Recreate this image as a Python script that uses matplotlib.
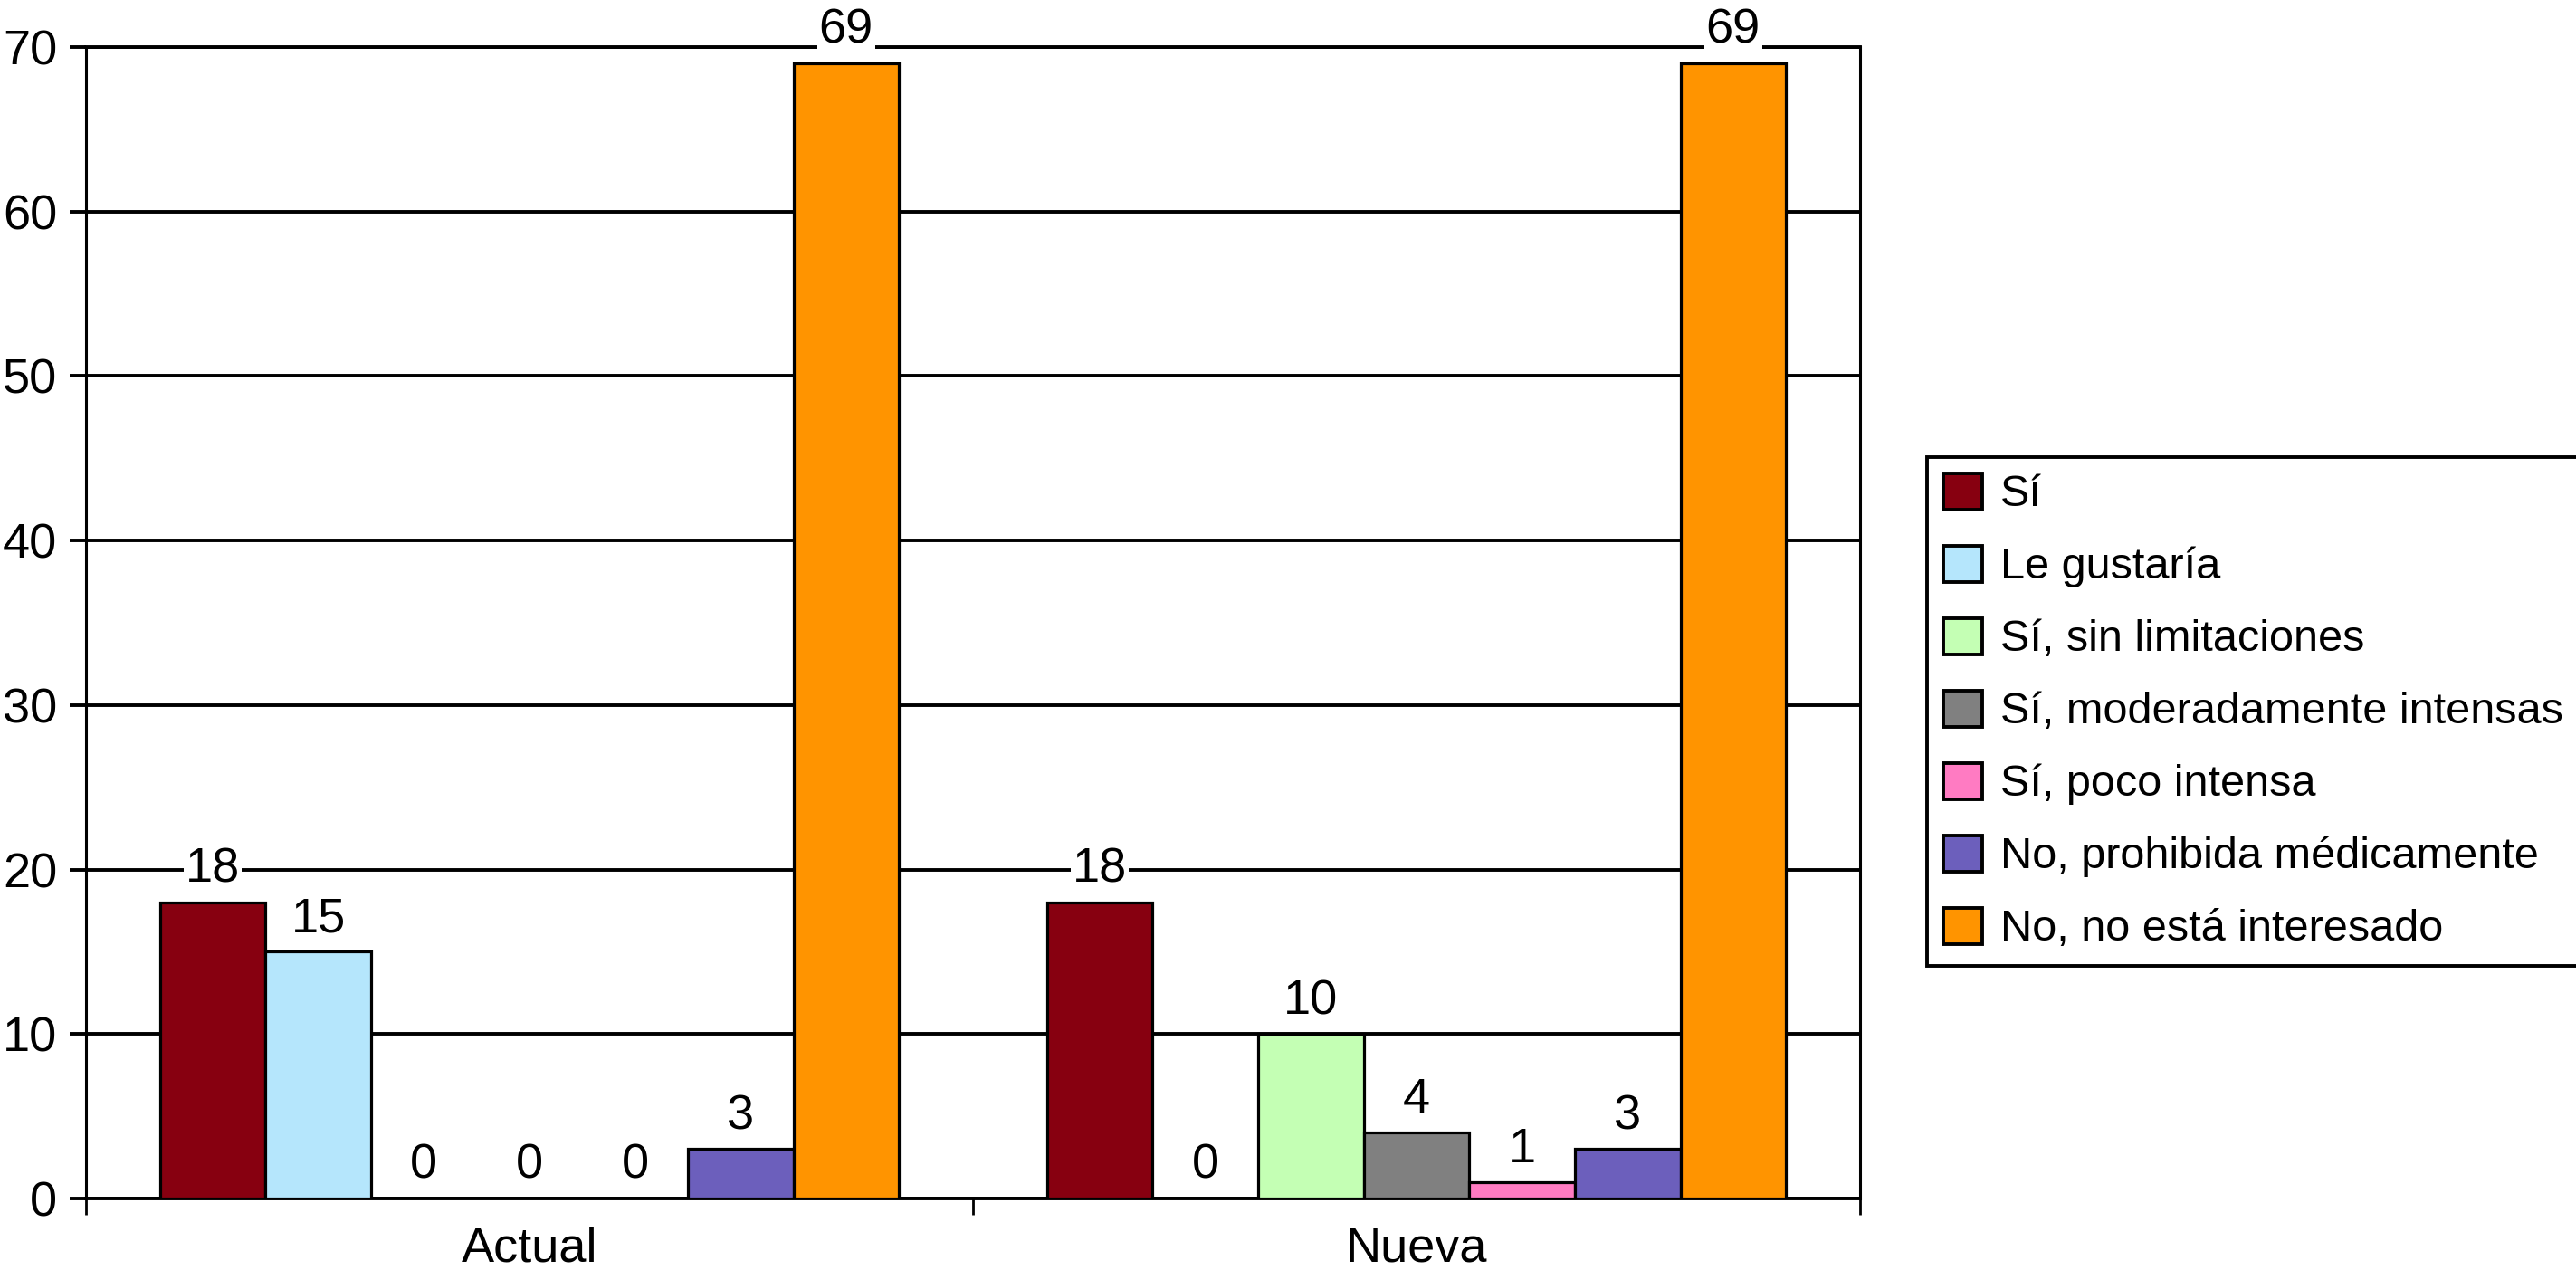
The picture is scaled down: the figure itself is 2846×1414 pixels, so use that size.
import matplotlib
matplotlib.use('Agg')
import matplotlib.pyplot as plt
import numpy as np

plt.rcParams['font.family'] = ['Liberation Sans', 'DejaVu Sans']

groups = ['Actual', 'Nueva']
series_names = ['Sí', 'Le gustaría', 'Sí, sin limitaciones',
                'Sí, moderadamente intensas', 'Sí, poco intensa',
                'No, prohibida médicamente', 'No, no está interesado']
actual = [18, 15, 0, 0, 0, 3, 69]
nueva = [18, 0, 10, 4, 1, 3, 69]
colors = ['#870010', '#B5E6FC', '#C4FFB4', '#808080', '#FF7BC2', '#6C5FBC', '#FF9400']
yticks = [0, 10, 20, 30, 40, 50, 60, 70]

LW = 2.8
FS = 39

fig = plt.figure(figsize=(28.46, 14.14), dpi=100)
ax = fig.add_axes([95/2846, 1 - 1324/1414, (2055 - 95)/2846, (1324 - 52)/1414])

x = np.arange(len(groups))
n = len(series_names)
w = 0.119
for i, (name, c) in enumerate(zip(series_names, colors)):
    vals = [actual[i], nueva[i]]
    pos = x + (i - (n - 1) / 2) * w
    bars = ax.bar(pos, vals, w, color=c, edgecolor='black', linewidth=2.3,
                  label=name, zorder=3)
    for b, v in zip(bars, vals):
        ax.annotate(str(v), (b.get_x() + b.get_width() / 2, v),
                    xytext=(0, 16), textcoords='offset points',
                    ha='center', va='baseline', fontsize=FS,
                    bbox=dict(facecolor='white', edgecolor='none', pad=1),
                    zorder=6, annotation_clip=False)

ax.set_xlim(-0.5, 1.5)
ax.set_ylim(0, 70)
ax.set_yticks(yticks)
ax.set_xticks(x)
ax.set_xticklabels(groups)
ax.set_xticks([-0.5, 0.5, 1.5], minor=True)
ax.tick_params(axis='x', which='major', length=0, pad=22, labelsize=FS)
ax.tick_params(axis='x', which='minor', length=13, width=2.0, direction='out')
ax.tick_params(axis='y', which='major', length=13, width=LW, direction='out',
               pad=10, labelsize=FS)
ax.yaxis.grid(True, color='black', linewidth=LW, zorder=1)
ax.set_axisbelow(True)
for s in ['left', 'right', 'top', 'bottom']:
    ax.spines[s].set_linewidth(LW)
    ax.spines[s].set_color('black')
ax.spines['left'].set_linewidth(2.2)
ax.spines['right'].set_linewidth(2.2)

leg = fig.legend(loc='upper left', bbox_to_anchor=(2129/2846, 1 - 505/1414),
                 bbox_transform=fig.transFigure, borderaxespad=0,
                 fontsize=35, frameon=True, fancybox=False, edgecolor='black',
                 framealpha=1, handlelength=0.9, handleheight=0.9,
                 handletextpad=0.41, labelspacing=0.68, borderpad=0.36)
leg.get_frame().set_linewidth(2.8)
for h in leg.legend_handles:
    h.set_linewidth(2.8)

fig.savefig('out.png', dpi=100, facecolor='white')
